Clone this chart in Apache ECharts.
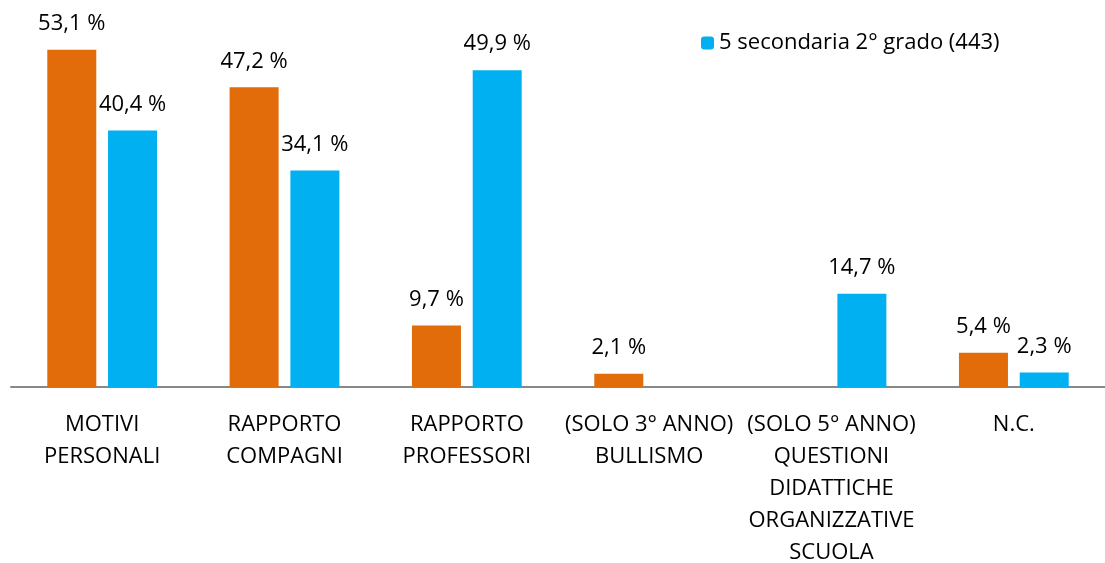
<!DOCTYPE html>
<html>
<head>
<meta charset="utf-8">
<script src="https://cdn.jsdelivr.net/npm/echarts@6/dist/echarts.min.js"></script>
<style>
    html, body { margin: 0; padding: 0; background: #fff; }
    #chart { width: 1105px; height: 563px; }
</style>
</head>
<body>
<div id="chart"></div>
<script>
var categories = [
    'MOTIVI\nPERSONALI',
    'RAPPORTO\nCOMPAGNI',
    'RAPPORTO\nPROFESSORI',
    '(SOLO 3° ANNO)\nBULLISMO',
    '(SOLO 5° ANNO)\nQUESTIONI\nDIDATTICHE\nORGANIZZATIVE\nSCUOLA',
    'N.C.'
];
var terzaValues = [53.1, 47.2, 9.7, 2.1, null, 5.4];
var quintaValues = [40.4, 34.1, 49.9, null, 14.7, 2.3];
var terzaName = '3 secondaria 2° grado';
var quintaName = '5 secondaria 2° grado (443)';

var chart = echarts.init(document.getElementById('chart'));

// etichette col formato italiano: 53,1 %
function fmtLabel(p) {
    return p.value.toFixed(1).replace('.', ',') + ' %';
}

var labelStyle = {
    show: true,
    position: 'top',
    distance: 15,
    formatter: fmtLabel,
    fontFamily: 'Open Sans',
    fontSize: 22,
    color: '#000'
};

chart.setOption({
    animation: false,
    textStyle: { fontFamily: 'Open Sans' },
    legend: {
        data: [quintaName],
        left: 696,
        top: 27,
        itemWidth: 13,
        itemHeight: 13,
        itemGap: 8,
        textStyle: { fontSize: 22, color: '#000', fontFamily: 'Open Sans' }
    },
    grid: {
        left: 11,
        right: 0,
        top: 6,
        bottom: 176,
        outerBoundsMode: 'none'
    },
    xAxis: {
        type: 'category',
        data: categories,
        axisLine: { lineStyle: { color: '#888', width: 2 } },
        axisTick: { show: false },
        axisLabel: {
            interval: 0,
            margin: 22,
            fontSize: 22,
            lineHeight: 32,
            color: '#000',
            fontFamily: 'Open Sans'
        }
    },
    yAxis: {
        type: 'value',
        min: 0,
        max: 60,
        show: false,
        splitLine: { show: false }
    },
    series: [
        {
            name: terzaName,
            type: 'bar',
            data: terzaValues,
            barWidth: 49,
            barGap: '24%',
            itemStyle: { color: '#E36C0A' },
            label: labelStyle
        },
        {
            name: quintaName,
            type: 'bar',
            data: quintaValues,
            barWidth: 49,
            barGap: '24%',
            itemStyle: { color: '#00B0F0' },
            label: labelStyle
        }
    ]
});
</script>
</body>
</html>
